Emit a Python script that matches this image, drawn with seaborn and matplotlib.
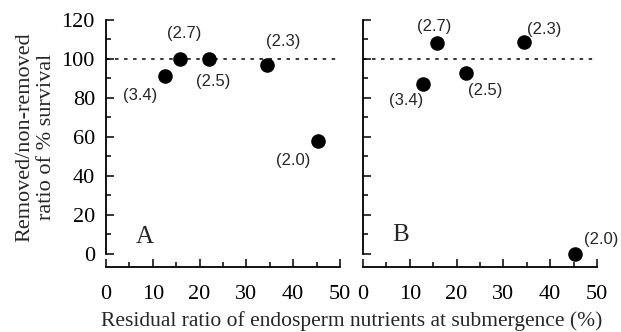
import matplotlib
matplotlib.use("Agg")
import matplotlib.pyplot as plt
import seaborn as sns
import pandas as pd
from matplotlib.ticker import MultipleLocator

# Data
residual_A = [12.7, 15.9, 22.1, 34.3, 45.2]
ratio_A = [91.5, 100, 100, 97, 58]
labels_A = ["(3.4)", "(2.7)", "(2.5)", "(2.3)", "(2.0)"]

residual_B = [12.9, 15.9, 22.1, 34.4, 45.3]
ratio_B = [87, 108, 92.7, 108.9, 0]
labels_B = ["(3.4)", "(2.7)", "(2.5)", "(2.3)", "(2.0)"]

panel_names = ["A", "B"]
x_ticks = [0, 10, 20, 30, 40, 50]
y_ticks = [0, 20, 40, 60, 80, 100, 120]
reference_level = 100

sns.set_style("ticks")
plt.rcParams["font.family"] = ["Liberation Serif", "DejaVu Serif"]
plt.rcParams["lines.scale_dashes"] = False

fig = plt.figure(figsize=(6.21, 3.32), dpi=100)
W, H = 621, 332

def px_axes(left, right, top, bottom):
    return [left / W, 1 - bottom / H, (right - left) / W, (bottom - top) / H]

axA = fig.add_axes(px_axes(106, 340, 20, 267))
axB = fig.add_axes(px_axes(363, 597, 20, 267))

# label offsets in pixels (dx, dy upward positive)
offs_A = [(-25, -20), (4, 25), (4, -23), (17, 23), (-24, -20)]
offs_B = [(-17, -16), (-3, 17), (19, -17), (20, 12), (26, 14)]

panels = [
    (axA, residual_A, ratio_A, labels_A, offs_A, panel_names[0], (8.3, 8.9)),
    (axB, residual_B, ratio_B, labels_B, offs_B, panel_names[1], (8.1, 9.7)),
]

for i, (ax, xs, ys, labs, offs, name, npos) in enumerate(panels):
    df = pd.DataFrame({"x": xs, "y": ys, "lab": labs})
    ax.plot([0, 50], [reference_level, reference_level], color="black",
            lw=1.1, linestyle=(0, (2.5, 4)), zorder=1)
    sns.scatterplot(data=df, x="x", y="y", ax=ax, color="black", s=110,
                    edgecolor="black", linewidth=0, zorder=3, clip_on=False,
                    legend=False)
    for xv, yv, lab, (dx, dy) in zip(xs, ys, labs, offs):
        ax.annotate(lab, (xv, yv), xytext=(dx, dy), textcoords="offset pixels",
                    ha="center", va="center", fontsize=12,
                    family=["Liberation Sans", "DejaVu Sans"])
    ax.text(npos[0], npos[1], name, fontsize=18, ha="center", va="center")
    ax.set_xlim(0, 50)
    ax.set_ylim(-6.7, 120)
    ax.set_xticks(x_ticks)
    ax.set_yticks(y_ticks)
    ax.xaxis.set_minor_locator(MultipleLocator(5))
    ax.yaxis.set_minor_locator(MultipleLocator(10))
    ax.spines["top"].set_visible(False)
    ax.spines["right"].set_visible(False)
    ax.spines["left"].set_bounds(0, 120)
    for s in ("left", "bottom"):
        ax.spines[s].set_linewidth(1.3)
        ax.spines[s].set_color("black")
    ax.tick_params(which="major", direction="in", length=5.8, width=1.1,
                   labelsize=16, colors="black")
    ax.tick_params(axis="x", which="major", pad=13)
    ax.tick_params(axis="y", which="major", pad=8)
    ax.tick_params(which="minor", direction="in", length=3.4, width=1.1,
                   colors="black")
    ax.set_xlabel("")
    ax.set_ylabel("")
    if i == 1:
        ax.tick_params(axis="y", labelleft=False)

fig.text(36 / W, 1 - 137 / H, "Removed/non-removed\nratio of % survival",
         rotation=90, ha="center", va="center", multialignment="center",
         fontsize=16, linespacing=1.2)
fig.text(351.5 / W, 1 - 326 / H,
         "Residual ratio of endosperm nutrients at submergence (%)",
         ha="center", va="baseline", fontsize=15.5)

fig.savefig("out.png", dpi=100)
